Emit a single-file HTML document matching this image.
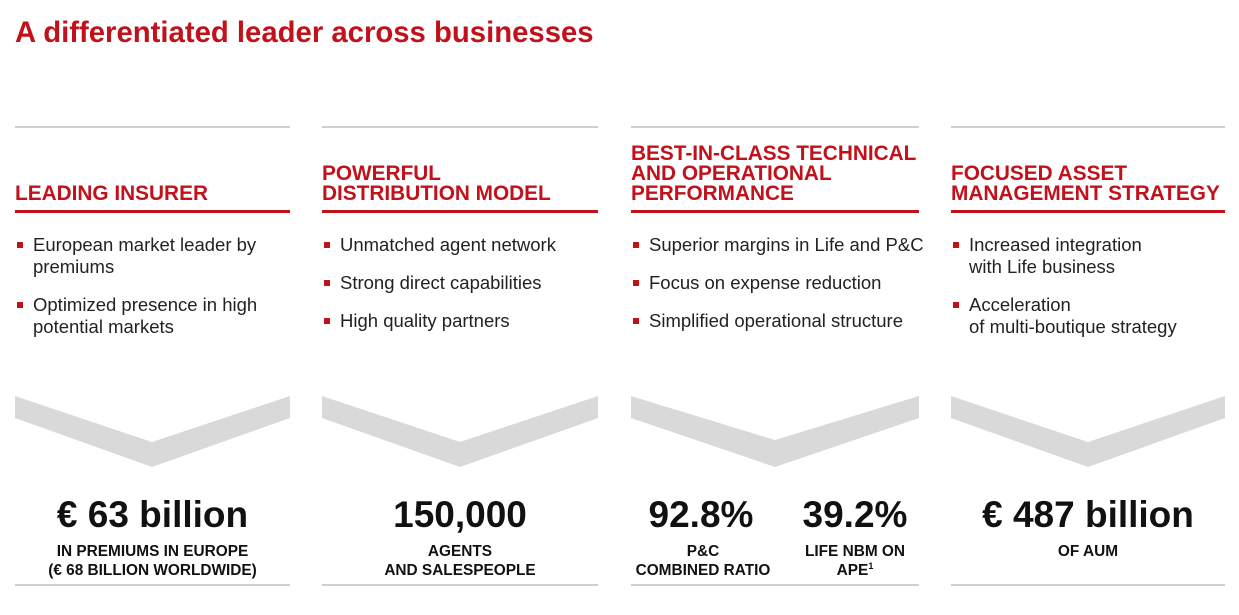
<!DOCTYPE html>
<html><head><meta charset="utf-8"><style>
body{margin:0;width:1239px;height:615px;background:#fff;font-family:"Liberation Sans",Arial,sans-serif;position:relative;overflow:hidden}
.t{position:absolute;left:15px;top:16px;font-size:29.3px;font-weight:bold;color:#c1121c;white-space:nowrap}
.col{position:absolute;top:0;height:615px}
.gl{position:absolute;left:0;right:0;height:2px;background:#cfcfcf}
.rl{position:absolute;left:0;right:0;top:210px;height:3px;background:#c1121c}
.h{position:absolute;left:0;bottom:411px;font-size:20.8px;font-weight:bold;color:#c1121c;line-height:20px;white-space:nowrap}
.ul{position:absolute;left:0;top:234px;margin:0;padding:0;list-style:none;font-size:18.5px;color:#222;line-height:22px}
.ul li{position:relative;padding-left:18px;margin-bottom:16px;white-space:nowrap}
.ul li:before{content:"";position:absolute;left:2px;top:8px;width:6px;height:6px;background:#c1121c}
.big{position:absolute;top:494px;font-size:37px;font-weight:bold;color:#111;text-align:center;white-space:nowrap}
.lab{position:absolute;top:542px;font-size:15.4px;font-weight:bold;color:#111;text-align:center;line-height:19px;white-space:nowrap}
sup{font-size:9px;line-height:0;vertical-align:6px}
svg{position:absolute;left:0;top:0}
</style></head><body>
<div class="t">A differentiated leader across businesses</div>

<div class="col" style="left:15px;width:275px">
<div class="gl" style="top:126px"></div>
<div class="h">LEADING INSURER</div>
<div class="rl"></div>
<ul class="ul"><li>European market leader by<br>premiums</li><li>Optimized presence in high<br>potential markets</li></ul>
<svg width="275" height="615"><polygon points="0,396 137,442 275,396 275,418 137,467 0,418" fill="#d9d9d9"/></svg>
<div class="big" style="left:0;width:275px">€ 63 billion</div>
<div class="lab" style="left:0;width:275px">IN PREMIUMS IN EUROPE<br>(€ 68 BILLION WORLDWIDE)</div>
<div class="gl" style="top:584px"></div>
</div>

<div class="col" style="left:322px;width:276px">
<div class="gl" style="top:126px"></div>
<div class="h">POWERFUL<br>DISTRIBUTION MODEL</div>
<div class="rl"></div>
<ul class="ul"><li>Unmatched agent network</li><li>Strong direct capabilities</li><li>High quality partners</li></ul>
<svg width="276" height="615"><polygon points="0,396 138,442 276,396 276,418 138,467 0,418" fill="#d9d9d9"/></svg>
<div class="big" style="left:0;width:276px">150,000</div>
<div class="lab" style="left:0;width:276px">AGENTS<br>AND SALESPEOPLE</div>
<div class="gl" style="top:584px"></div>
</div>

<div class="col" style="left:631px;width:288px">
<div class="gl" style="top:126px"></div>
<div class="h">BEST-IN-CLASS TECHNICAL<br>AND OPERATIONAL<br>PERFORMANCE</div>
<div class="rl"></div>
<ul class="ul"><li>Superior margins in Life and P&amp;C</li><li>Focus on expense reduction</li><li>Simplified operational structure</li></ul>
<svg width="288" height="615"><polygon points="0,396 144,440 288,396 288,418 144,467 0,418" fill="#d9d9d9"/></svg>
<div class="big" style="left:0;width:140px">92.8%</div>
<div class="lab" style="left:0;width:144px">P&amp;C<br>COMBINED RATIO</div>
<div class="big" style="left:154px;width:140px">39.2%</div>
<div class="lab" style="left:154px;width:140px">LIFE NBM ON<br>APE<sup>1</sup></div>
<div class="gl" style="top:584px"></div>
</div>

<div class="col" style="left:951px;width:274px">
<div class="gl" style="top:126px"></div>
<div class="h">FOCUSED ASSET<br>MANAGEMENT STRATEGY</div>
<div class="rl"></div>
<ul class="ul"><li>Increased integration<br>with Life business</li><li>Acceleration<br>of multi-boutique strategy</li></ul>
<svg width="274" height="615"><polygon points="0,396 137,442 274,396 274,418 137,467 0,418" fill="#d9d9d9"/></svg>
<div class="big" style="left:0;width:274px">€ 487 billion</div>
<div class="lab" style="left:0;width:274px">OF AUM</div>
<div class="gl" style="top:584px"></div>
</div>
</body></html>
